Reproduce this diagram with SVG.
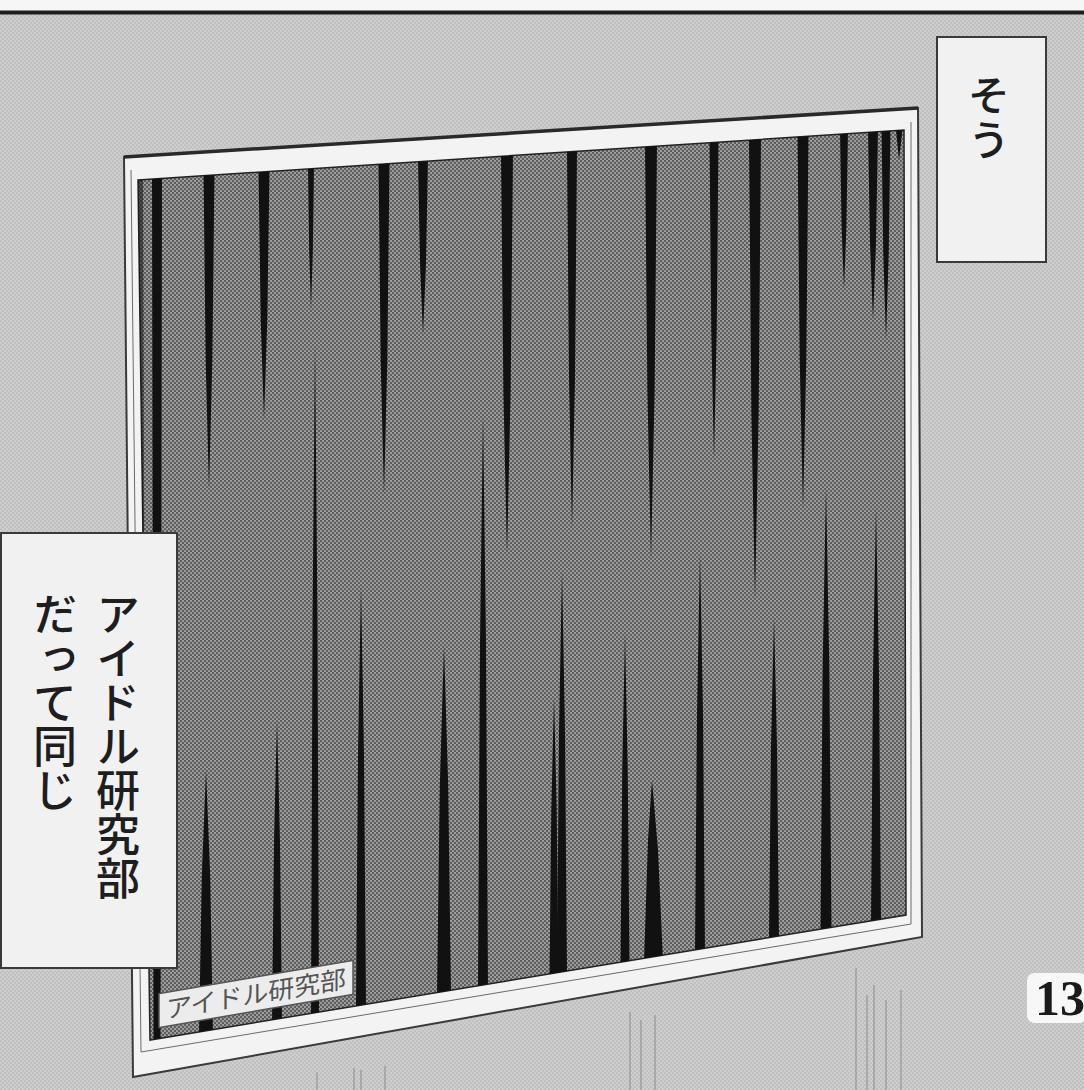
<svg xmlns="http://www.w3.org/2000/svg" width="1084" height="1090" viewBox="0 0 1084 1090">
<style>
.cap{fill:#f1f1f1;stroke:#3a3a3a;stroke-width:2}
.vt{font-family:"Noto Sans CJK JP","Noto Sans CJK SC",sans-serif;writing-mode:vertical-rl;fill:#1e1e1e;font-weight:500}
.spk{fill:#111}
.sl{stroke:#9c9c9c;stroke-width:1.4;fill:none}
.bev{stroke:#6a6a6a;stroke-width:1;fill:none}
</style>
<defs>
<pattern id="bgdots" width="4" height="4" patternUnits="userSpaceOnUse">
<rect width="4" height="4" fill="#cecece"/>
<circle cx="1" cy="1" r="0.85" fill="#b3b3b3"/>
<circle cx="3" cy="3" r="0.85" fill="#b3b3b3"/>
</pattern>
<pattern id="pdots" width="4" height="4" patternUnits="userSpaceOnUse">
<rect width="4" height="4" fill="#a0a0a0"/>
<circle cx="1" cy="1" r="1.15" fill="#5a5a5a"/>
<circle cx="3" cy="3" r="1.15" fill="#5a5a5a"/>
</pattern>
<clipPath id="panelClip">
<polygon points="138,180 904,130 906,915 150,1040"/>
</clipPath>
</defs>

<g id="background">
<rect x="0" y="0" width="1084" height="1090" fill="url(#bgdots)"/>
<rect x="0" y="0" width="1084" height="11" fill="#f6f6f6"/>
<line x1="0" y1="12.5" x2="1084" y2="12.5" stroke="#1e1e1e" stroke-width="4"/>
</g>

<g id="speed-lines">
<line class="sl" x1="630" y1="1012" x2="630" y2="1090"/>
<line class="sl" x1="641" y1="1020" x2="641" y2="1090"/>
<line class="sl" x1="655" y1="1015" x2="655" y2="1090"/>
<line class="sl" x1="856" y1="968" x2="856" y2="1090"/>
<line class="sl" x1="867" y1="995" x2="867" y2="1090"/>
<line class="sl" x1="874" y1="985" x2="874" y2="1090"/>
<line class="sl" x1="886" y1="1000" x2="886" y2="1090"/>
<line class="sl" x1="901" y1="990" x2="901" y2="1090"/>
<line class="sl" x1="317" y1="1072" x2="317" y2="1090"/>
<line class="sl" x1="354" y1="1068" x2="354" y2="1090"/>
<line class="sl" x1="361" y1="1070" x2="361" y2="1090"/>
<line class="sl" x1="385" y1="1066" x2="385" y2="1090"/>
</g>

<g id="frame">
<polygon points="124,157 918,108 922,937 133,1077" fill="#f3f3f3" stroke="#3a3a3a" stroke-width="2"/>
<line x1="124" y1="157" x2="918" y2="108" stroke="#2a2a2a" stroke-width="3.5"/>
<line class="bev" x1="131" y1="170" x2="141" y2="1052"/>
<line class="bev" x1="141" y1="1052" x2="911" y2="924"/>
<line class="bev" x1="911" y1="122" x2="911" y2="924"/>
</g>

<g id="panel">
<polygon points="138,180 904,130 906,915 150,1040" fill="url(#pdots)" stroke="#222" stroke-width="1.5"/>
<g id="spikes" clip-path="url(#panelClip)">
<polygon class="spk" points="152,170 162,170 160.5,1045 153.5,1045"/>
<polygon class="spk" points="138,175 143,175 146,1045 141,1045" opacity="0.55"/>
<polygon class="spk" points="203.5,170 214.5,170 212.3,362 209,490 205.7,362"/>
<polygon class="spk" points="258.5,167 269.5,167 267.3,319 264,420 260.7,319"/>
<polygon class="spk" points="308,164 314,164 312.8,252 311,310 309.2,252"/>
<polygon class="spk" points="378.5,159 389.5,159 387.3,361 384,495 380.7,361"/>
<polygon class="spk" points="418,156 428,156 426,263 423,335 420,263"/>
<polygon class="spk" points="501,151 513,151 510.6,393 507,555 503.4,393"/>
<polygon class="spk" points="567,147 577,147 575,377 572,530 569,377"/>
<polygon class="spk" points="645,141 657,141 654.6,392 651,560 647.4,392"/>
<polygon class="spk" points="709.5,137 718.5,137 716.7,331 714,460 711.3,331"/>
<polygon class="spk" points="749,135 761,135 758.6,414 755,600 751.4,414"/>
<polygon class="spk" points="797.5,132 808.5,132 806.3,359 803,510 799.7,359"/>
<polygon class="spk" points="840,129 848,129 846.4,226 844,290 841.6,226"/>
<polygon class="spk" points="868,127 878,127 876,243 873,320 870,243"/>
<polygon class="spk" points="881.5,126 890.5,126 888.7,254 886,340 883.3,254"/>
<polygon class="spk" points="895.5,125 903,125 899,160"/>

<polygon class="spk" points="199,1036 213,1036 210.2,876 206,770 201.8,876"/>
<polygon class="spk" points="272,1024 282,1024 280,842 277,720 274,842"/>
<polygon class="spk" points="311,1018 319,1018 317.4,613 315,343 312.6,613"/>
<polygon class="spk" points="356,1010 366,1010 364,755 361,585 358,755"/>
<polygon class="spk" points="437,997 451,997 448.2,786 444,645 439.8,786"/>
<polygon class="spk" points="478,990 488,990 486,644 483,413 480,644"/>
<polygon class="spk" points="549.5,979 558.5,979 556.7,810 554,697 551.3,810"/>
<polygon class="spk" points="557,977 567,977 565,733 562,570 559,733"/>
<polygon class="spk" points="620.5,967 629.5,967 627.7,767 625,633 622.3,767"/>
<polygon class="spk" points="644,962 663,962 658,850 652,780 648,840"/>
<polygon class="spk" points="695,955 705,955 703,714 700,553 697,714"/>
<polygon class="spk" points="769,943 779,943 777,747 774,617 771,747"/>
<polygon class="spk" points="820.5,934 831.5,934 829.3,666 826,487 822.7,666"/>
<polygon class="spk" points="871,926 881,926 879,675 876,507 873,675"/>
</g>
</g>

<g id="label" transform="translate(256,994) skewY(-9.7)">
<rect x="-97" y="-17" width="194" height="34" fill="#ececec" stroke="#555" stroke-width="1.5"/>
<text x="0" y="9" text-anchor="middle" font-family="'Noto Sans CJK JP','Noto Sans CJK SC',sans-serif" font-size="25" fill="#555" textLength="180" lengthAdjust="spacingAndGlyphs">アイドル研究部</text>
</g>

<g id="caption-right">
<rect class="cap" x="937" y="37" width="109" height="225"/>
<text class="vt" x="989" y="74" font-size="42" letter-spacing="3">そう</text>
</g>

<g id="caption-left">
<rect class="cap" x="1" y="533" width="176" height="435"/>
<text class="vt" x="118" y="592" font-size="44">アイドル研究部</text>
<text class="vt" x="55" y="592" font-size="44">だって同じ</text>
</g>

<g id="page-number">
<rect x="1027" y="973" width="60" height="50" rx="8" fill="#f7f7f7"/>
<text x="1035" y="1015" font-family="'Liberation Serif',serif" font-size="50" font-weight="bold" fill="#1a1a1a">13</text>
</g>
</svg>
